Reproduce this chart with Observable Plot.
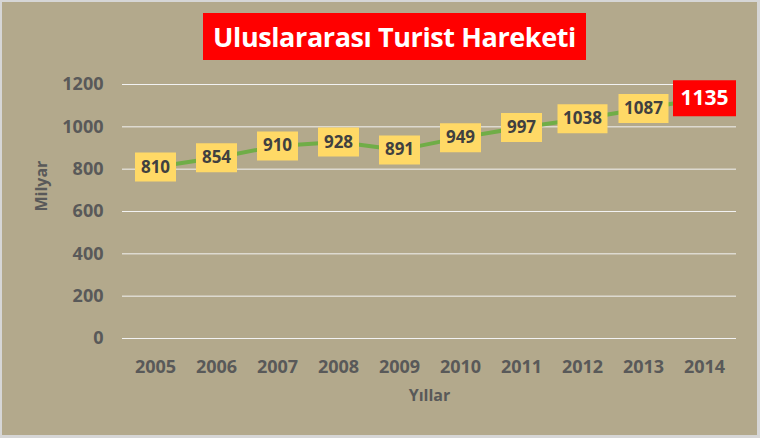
<!DOCTYPE html>
<html>
<head>
<meta charset="utf-8">
<script src="https://cdn.jsdelivr.net/npm/d3@7"></script>
<script src="https://cdn.jsdelivr.net/npm/@observablehq/plot@0.6"></script>
<style>
  html, body { margin: 0; padding: 0; background: #ffffff; }
  #wrap { position: relative; width: 760px; height: 438px; background: #B3A98C; overflow: hidden; }
  #frame { position: absolute; left: 0; top: 0; width: 760px; height: 438px; box-sizing: border-box; border-style: solid; border-color: #D6D6D6; border-width: 2px 3px 3px 2px; pointer-events: none; }
  #title { position: absolute; left: 203px; top: 13px; width: 383px; height: 47px; background: #FF0000; color: #ffffff;
           font-family: "Open Sans", sans-serif; font-weight: 700; font-size: 27px; line-height: 47px; text-align: center; letter-spacing: -0.4px; }
  svg { display: block; }
</style>
</head>
<body>
<div id="wrap">
  <div id="chart"></div>
  <div id="title">Uluslararası Turist Hareketi</div>
  <div id="frame"></div>
</div>
<script>
const years = ["2005","2006","2007","2008","2009","2010","2011","2012","2013","2014"];
const values = [810, 854, 910, 928, 891, 949, 997, 1038, 1087, 1135];
const yTicks = [0, 200, 400, 600, 800, 1000, 1200];
const yTitle = "Milyar";
const xTitle = "Yıllar";

const data = years.map((year, i) => ({year, value: values[i]}));
const last = data.slice(-1);
const small = data.slice(0, -1).filter(d => String(d.value).length === 3);
const big = data.slice(0, -1).filter(d => String(d.value).length === 4);

function rectSymbol(w, h) {
  return { draw(ctx) { ctx.moveTo(-w/2, -h/2); ctx.lineTo(w/2, -h/2); ctx.lineTo(w/2, h/2); ctx.lineTo(-w/2, h/2); ctx.closePath(); } };
}

const chart = Plot.plot({
  width: 760,
  height: 438,
  marginLeft: 122,
  marginRight: 24,
  marginTop: 84,
  marginBottom: 100,
  style: { background: "transparent", fontFamily: "'Open Sans', sans-serif", fontSize: "18px", fontWeight: "bold", color: "#595959" },
  x: { type: "point", domain: years, padding: 0.5, label: null, tickSize: 0, tickPadding: 22 },
  y: { domain: [0, 1200], ticks: yTicks, label: null, tickSize: 0, tickPadding: 19, tickFormat: d => String(d) },
  marks: [
    Plot.ruleY(yTicks, { stroke: "#F2F2F2", strokeWidth: 1 }),
    Plot.line(data, { x: "year", y: "value", stroke: "#70AD47", strokeWidth: 4 }),
    Plot.dot(small, { x: "year", y: "value", symbol: rectSymbol(41, 29), fill: "#FFD966", stroke: "none" }),
    Plot.dot(big, { x: "year", y: "value", symbol: rectSymbol(50, 29), fill: "#FFD966", stroke: "none" }),
    Plot.dot(last, { x: "year", y: "value", symbol: rectSymbol(63, 36), fill: "#FF0000", stroke: "none" }),
    Plot.text(data.slice(0, -1), { x: "year", y: "value", text: d => String(d.value), fill: "#404040", fontSize: 17, fontWeight: "bold" }),
    Plot.text(last, { x: "year", y: "value", text: d => String(d.value), fill: "#FFFFFF", fontSize: 21, fontWeight: "bold" }),
    Plot.text([yTitle], { frameAnchor: "left", dx: -81, rotate: -90, fill: "#595959", fontSize: 16, fontWeight: "bold" }),
    Plot.text([xTitle], { frameAnchor: "bottom", dy: 62, fill: "#595959", fontSize: 16, fontWeight: "bold" })
  ]
});
document.getElementById("chart").appendChild(chart);
</script>
</body>
</html>
